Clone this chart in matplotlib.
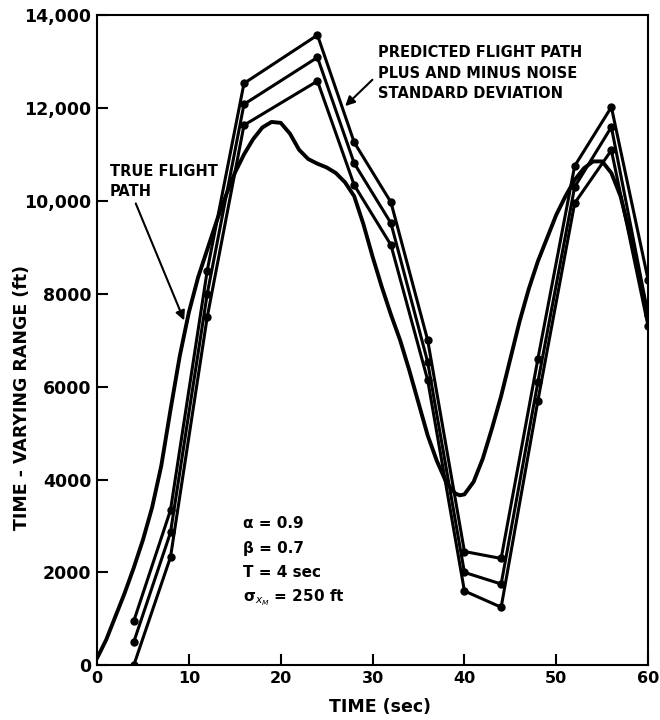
import matplotlib
matplotlib.use("Agg")
import matplotlib.pyplot as plt

# predicted flight path (plus / nominal / minus noise std dev), sampled every 4 sec
t_pred = [4, 8, 12, 16, 24, 28, 32, 36, 40, 44, 48, 52, 56, 60]
pred_upper = [950, 3340, 8500, 12530, 13570, 11260, 9970, 7000, 2450, 2300, 6600, 10750, 12020, 8300]
pred_mid = [500, 2860, 8000, 12080, 13090, 10810, 9520, 6530, 2000, 1750, 6100, 10300, 11590, 7550]
pred_lower = [0, 2330, 7500, 11630, 12580, 10340, 9050, 6140, 1600, 1250, 5700, 9950, 11090, 7300]

# true flight path
t_true = [0, 1, 2, 3, 4, 5, 6, 7, 8, 9, 10, 11, 12, 13, 14, 15, 16, 17, 18, 19, 20,
          21, 22, 23, 24, 25, 26, 27, 28, 29, 30, 31, 32, 33, 34, 35, 36, 37, 38, 39,
          39.5, 40, 41, 42, 43, 44, 45, 46, 47, 48, 49, 50, 51, 52, 53, 54, 55, 56,
          57, 58, 59, 60]
r_true = [150, 550, 1050, 1550, 2100, 2700, 3400, 4300, 5500, 6650, 7600, 8350, 8950,
          9550, 10100, 10600, 11000, 11330, 11580, 11700, 11680, 11450, 11100, 10900,
          10800, 10720, 10600, 10400, 10100, 9500, 8800, 8150, 7550, 7000, 6350, 5650,
          4950, 4400, 3950, 3700, 3660, 3680, 3950, 4450, 5100, 5800, 6600, 7400, 8100,
          8700, 9200, 9700, 10100, 10450, 10700, 10850, 10850, 10600, 10100, 9300,
          8400, 7500]

yticks = [0, 2000, 4000, 6000, 8000, 10000, 12000, 14000]
ytick_labels = ["0", "2000", "4000", "6000", "8000", "10,000", "12,000", "14,000"]
xticks = [0, 10, 20, 30, 40, 50, 60]

plt.rcParams['font.family'] = ['DejaVu Sans']

fig = plt.figure(figsize=(6.6, 7.2), dpi=100)
ax = fig.add_axes([0.147, 0.076, 0.835, 0.903])

ax.plot(t_true, r_true, color='black', lw=2.8, solid_capstyle='round')
for vals in (pred_upper, pred_mid, pred_lower):
    ax.plot(t_pred, vals, color='black', lw=2.2, marker='o', markersize=5)

ax.set_xlim(0, 60)
ax.set_ylim(0, 14000)
ax.set_xticks(xticks)
ax.set_yticks(yticks)
ax.set_yticklabels(ytick_labels)
ax.tick_params(direction='in', length=8, width=1.5, pad=4)
ax.tick_params(axis='x', labelsize=11.5)
ax.tick_params(axis='y', labelsize=12.5)
for lab in ax.get_xticklabels() + ax.get_yticklabels():
    lab.set_fontweight('bold')
for s in ax.spines.values():
    s.set_linewidth(1.5)

ax.set_xlabel("TIME (sec)", fontsize=12.5, fontweight='bold')
ax.set_ylabel("TIME - VARYING RANGE (ft)", fontsize=12.5, fontweight='bold')
ax.xaxis.set_label_coords(0.514, -0.05)
ax.yaxis.set_label_coords(-0.12, 0.412)

ax.text(1.4, 10800, "TRUE FLIGHT\nPATH", fontsize=10.5, fontweight='bold',
        va='top', ha='left', linespacing=1.4)
ax.annotate("", xy=(9.6, 7370), xytext=(4.1, 10000),
            arrowprops=dict(arrowstyle='-|>', color='black', lw=1.5, mutation_scale=14))

ax.text(30.6, 13350, "PREDICTED FLIGHT PATH\nPLUS AND MINUS NOISE\nSTANDARD DEVIATION",
        fontsize=10.5, fontweight='bold', va='top', ha='left', linespacing=1.45)
ax.annotate("", xy=(26.8, 12000), xytext=(30.2, 12650),
            arrowprops=dict(arrowstyle='-|>', color='black', lw=1.5, mutation_scale=14))

params = ["α = 0.9", "β = 0.7", "T = 4 sec", r"σ$_{x_M}$ = 250 ft"]
for i, p in enumerate(params):
    ax.text(15.9, 3060 - i * 535, p, fontsize=11, fontweight='bold', va='center', ha='left')

fig.savefig("out.png", dpi=100)
